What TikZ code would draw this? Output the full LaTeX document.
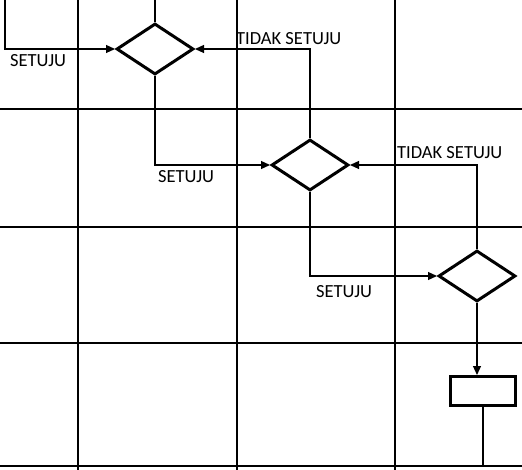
\documentclass[tikz,border=0pt]{standalone}
\usepackage{fontspec}
\setmainfont{Carlito}
\usetikzlibrary{arrows.meta,shapes.geometric}
\tikzset{
  lane/.style ={draw=black,line width=1.8pt},
  dec/.style  ={diamond,draw=black,line width=3pt,minimum width=77pt,
                minimum height=51pt,inner sep=0pt},
  act/.style  ={rectangle,draw=black,line width=3pt,minimum width=65pt,
                minimum height=29pt,inner sep=0pt},
  link/.style ={draw=black,line width=1.2pt},
  flow/.style ={link,-{Triangle[length=9pt,width=8pt]}},
  lbl/.style  ={font=\fontsize{18.5}{20}\selectfont,inner sep=0pt,anchor=base west},
}

\begin{document}
\begin{tikzpicture}[x=1pt,y=-1pt]
\useasboundingbox (0,0) rectangle (522,470);

% ---------------- swimlane grid -------------------------------------------
\foreach \x in {78,237,395}{\draw[lane] (\x,0) -- (\x,470);}
\foreach \y in {109,227,343,466}{\draw[lane] (0,\y) -- (522,\y);}

% ---------------- decisions and action ------------------------------------
\node[dec] (d1) at (155,49) {};
\node[dec] (d2) at (310,165) {};
\node[dec] (d3) at (477,276) {};
\node[act] (r1) at (483,391) {};
\coordinate (in1) at (5,0);
\coordinate (in2) at (155,0);
\coordinate (out) at (483,466);

% ---------------- connectors ----------------------------------------------
\draw[flow] (in1) |- (d1.west);
\draw[link] (in2) -- (d1.north);
\draw[flow] (d2.north) |- (d1.east);
\draw[flow] (d1.south) |- (d2.west);
\draw[flow] (d3.north) |- (d2.east);
\draw[flow] (d2.south) |- (d3.west);
\draw[flow] (d3.south) -- (d3.south |- r1.north);
\draw[link] (r1.south) -- (out);

% ---------------- labels --------------------------------------------------
\node[lbl] (s1) at (10,67)  {SETUJU};
\node[lbl] (n1) at (236,45) {TIDAK SETUJU};
\node[lbl] (s2) at (158,183) {SETUJU};
\node[lbl] (n2) at (397,159) {TIDAK SETUJU};
\node[lbl] (s3) at (316,298) {SETUJU};
\end{tikzpicture}
\end{document}
